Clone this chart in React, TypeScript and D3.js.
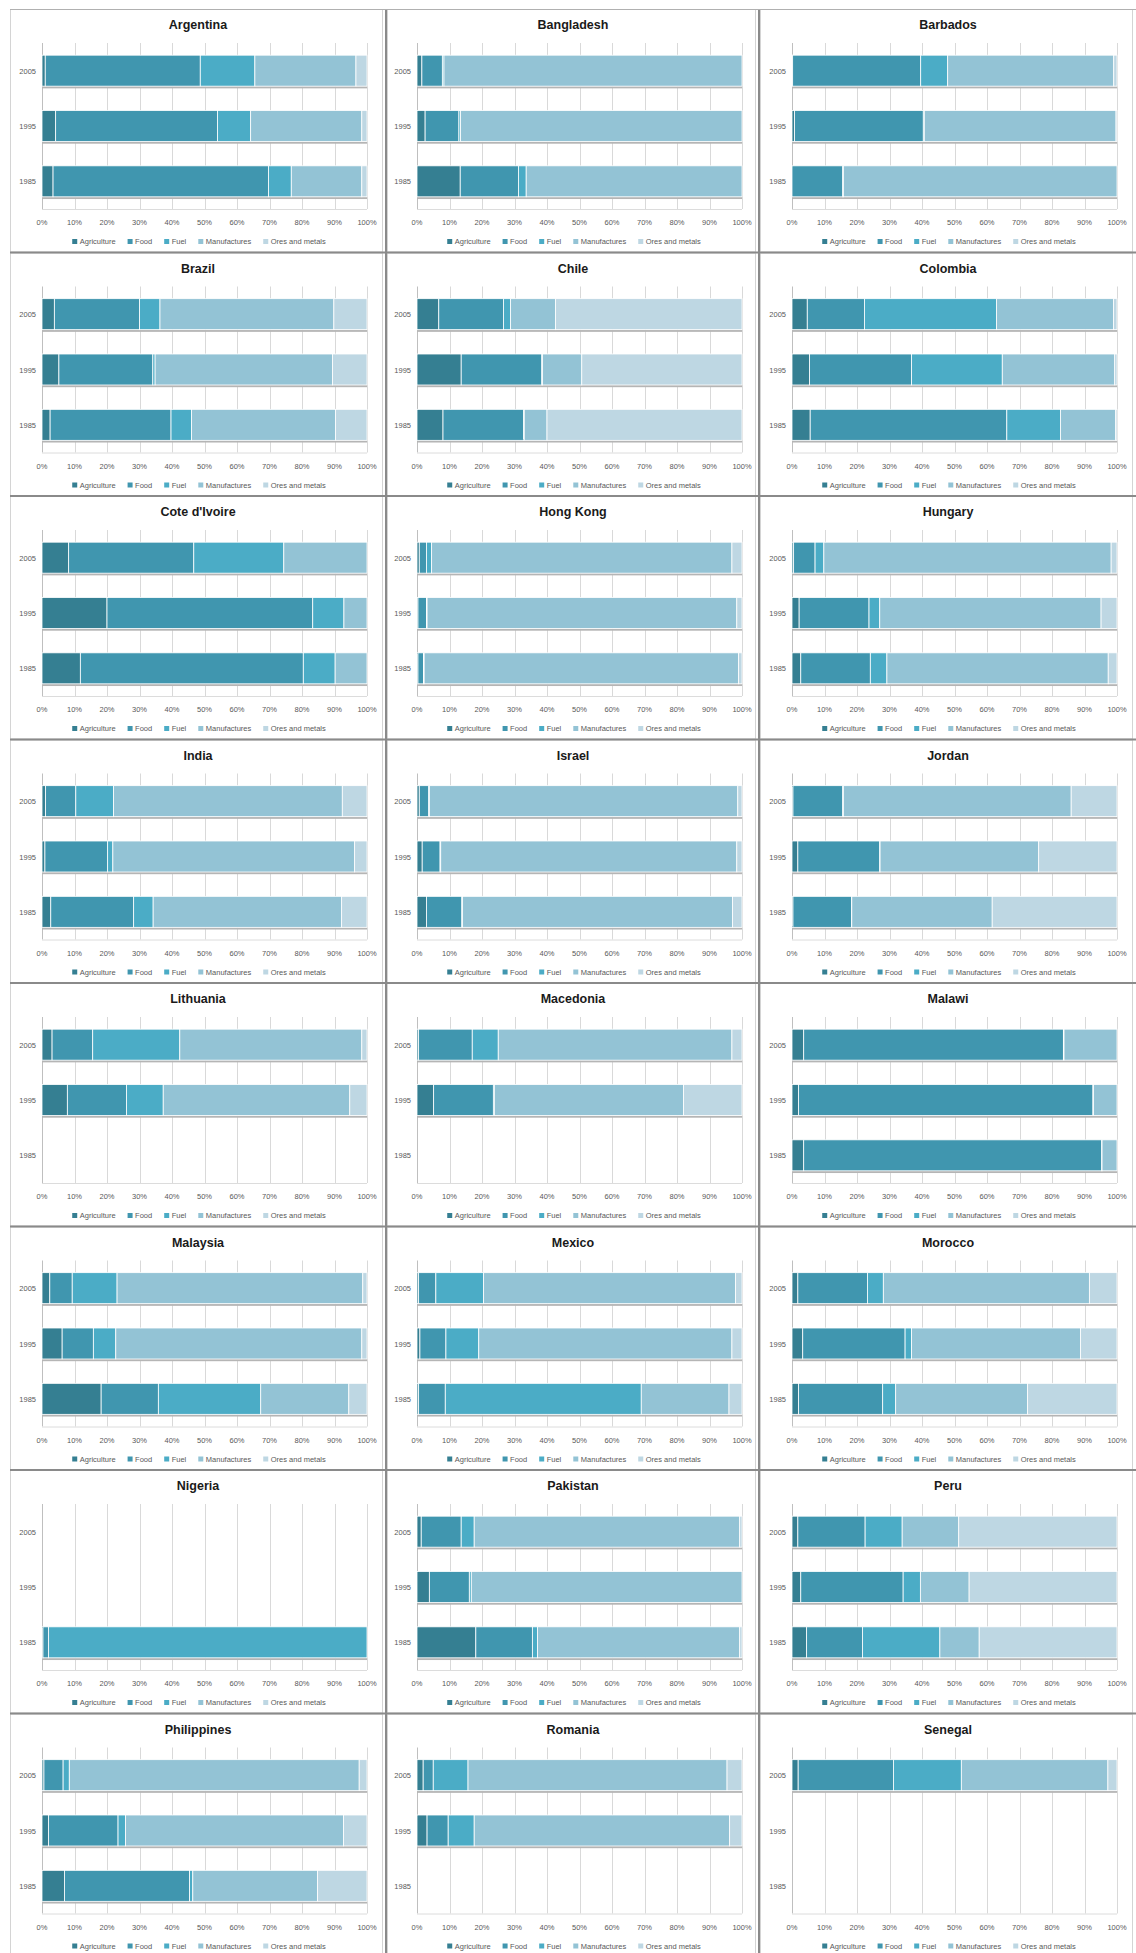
import { useEffect, useRef } from "react";
import * as d3 from "d3";

// countries in reading order (3 per row)
const countries = [
  "Argentina", "Bangladesh", "Barbados",
  "Brazil", "Chile", "Colombia",
  "Cote d'Ivoire", "Hong Kong", "Hungary",
  "India", "Israel", "Jordan",
  "Lithuania", "Macedonia", "Malawi",
  "Malaysia", "Mexico", "Morocco",
  "Nigeria", "Pakistan", "Peru",
  "Philippines", "Romania", "Senegal",
];

const years = ["2005", "1995", "1985"];

const seriesNames = ["Agriculture", "Food", "Fuel", "Manufactures", "Ores and metals"];
const seriesColors = ["#357f92", "#4096af", "#4bacc6", "#93c3d5", "#bed7e3"];

const xTicks = [0, 0.1, 0.2, 0.3, 0.4, 0.5, 0.6, 0.7, 0.8, 0.9, 1];

// share of merchandise exports (%), per country: [2005, 1995, 1985], null = no data
const agriculture = [
  [1.0, 4.2, 3.4], [1.5, 2.5, 13.3], [0.2, 0.8, 0],
  [3.8, 5.2, 2.5], [6.7, 13.6, 8.0], [4.7, 5.4, 5.6],
  [8.2, 20.0, 11.8], [0.7, 0.3, 0.3], [0.5, 2.2, 2.7],
  [1.1, 0.9, 2.7], [0.7, 1.6, 2.9], [0.3, 1.8, 0.3],
  [3.1, 7.8, null], [0.5, 5.1, null], [3.6, 2.0, 3.6],
  [2.4, 6.2, 18.2], [0.5, 0.9, 0.5], [1.8, 3.3, 2.0],
  [null, null, 0.3], [1.3, 3.8, 18.1], [1.8, 2.7, 4.5],
  [0.6, 2.0, 6.9], [1.9, 3.1, null], [1.9, null, null],
];
const food = [
  [47.7, 49.8, 66.3], [6.3, 10.4, 17.9], [39.4, 39.6, 15.6],
  [26.2, 28.9, 37.2], [19.9, 24.8, 24.8], [17.6, 31.4, 60.5],
  [38.5, 63.3, 68.6], [2.2, 2.6, 1.7], [6.6, 21.5, 21.4],
  [9.3, 19.3, 25.5], [2.9, 5.5, 10.9], [15.3, 25.2, 18.0],
  [12.5, 18.2, null], [16.5, 18.3, null], [79.9, 90.6, 91.7],
  [6.9, 9.6, 17.6], [5.3, 8.0, 8.2], [21.4, 31.5, 25.9],
  [null, null, 1.7], [12.3, 12.3, 17.4], [20.7, 31.5, 17.2],
  [5.9, 21.4, 38.5], [3.1, 6.5, null], [29.3, null, null],
];
const fuel = [
  [16.8, 10.2, 7.0], [0.5, 0.5, 2.4], [8.3, 0.3, 0.2],
  [6.3, 0.7, 6.3], [2.2, 0.2, 0.2], [40.6, 27.9, 16.5],
  [27.7, 9.6, 9.8], [1.6, 0.2, 0.2], [2.7, 3.3, 5.1],
  [11.6, 1.6, 6.0], [0.2, 0.2, 0.2], [0.2, 0.1, 0.1],
  [26.8, 11.3, null], [8.0, 0.3, null], [0.2, 0.2, 0.1],
  [13.8, 6.9, 31.5], [14.7, 10.1, 60.3], [4.9, 2.0, 4.0],
  [null, null, 98.0], [4.0, 0.6, 1.6], [11.4, 5.3, 23.8],
  [1.9, 2.3, 1.0], [10.7, 8.0, null], [20.9, null, null],
];
const manufactures = [
  [31.1, 34.2, 21.7], [91.7, 86.6, 66.4], [51.1, 59.0, 84.2],
  [53.5, 54.6, 44.3], [13.8, 12.1, 7.0], [36.0, 34.6, 17.0],
  [25.6, 7.1, 9.8], [92.4, 95.3, 96.7], [88.4, 68.1, 68.1],
  [70.4, 74.4, 58.0], [94.9, 91.1, 83.1], [70.1, 48.8, 43.2],
  [56.0, 57.4, null], [71.9, 58.0, null], [16.3, 7.2, 4.6],
  [75.6, 75.7, 27.1], [77.5, 77.9, 27.0], [63.4, 52.0, 40.6],
  [null, null, 0], [81.7, 83.3, 62.2], [17.4, 15.0, 12.1],
  [89.2, 67.1, 38.4], [79.7, 78.6, null], [45.1, null, null],
];
const oresMetals = [
  [3.4, 1.6, 1.6], [0, 0, 0], [1.0, 0.3, 0],
  [10.2, 10.6, 9.7], [57.4, 49.3, 60.0], [1.1, 0.7, 0.4],
  [0, 0, 0], [3.1, 1.6, 1.1], [1.8, 4.9, 2.7],
  [7.6, 3.8, 7.8], [1.3, 1.6, 2.9], [14.1, 24.1, 38.4],
  [1.6, 5.3, null], [3.1, 17.9, null], [0, 0, 0],
  [1.3, 1.6, 5.6], [2.0, 3.1, 4.0], [8.5, 11.2, 27.5],
  [null, null, 0], [0.7, 0, 0.7], [48.7, 45.5, 42.4],
  [2.4, 7.2, 15.2], [4.6, 3.8, null], [2.8, null, null],
];

const seriesValues = [agriculture, food, fuel, manufactures, oresMetals];

export default function App() {
  const svgRef = useRef<SVGSVGElement | null>(null);

  useEffect(() => {
    if (!svgRef.current) return;
    const width = 1136;
    const height = 1953;
    const svg = d3.select(svgRef.current);
    svg.selectAll("*").remove();

    const font = "'Liberation Sans', Arial, sans-serif";
    const rowH = 243.5;
    const top0 = 9;
    const plotLefts = [42, 417, 792];
    const plotW = 325;
    const cellX = [10, 387, 760];
    const cellW = [376, 372, 376];

    svg.append("rect").attr("width", width).attr("height", height).attr("fill", "#fff");

    countries.forEach((country, ci) => {
      const col = ci % 3;
      const row = Math.floor(ci / 3);
      const rT = top0 + row * rowH;
      const pl = plotLefts[col];
      const g = svg.append("g");

      // chart border
      g.append("rect")
        .attr("x", cellX[col] + 0.5)
        .attr("y", rT + 0.5)
        .attr("width", cellW[col] - 4)
        .attr("height", rowH - 1)
        .attr("fill", "#fff")
        .attr("stroke", "#d4d4d4");

      const x = d3.scaleLinear().domain([0, 1]).range([pl, pl + plotW]);
      const y = d3
        .scaleBand<string>()
        .domain(years)
        .range([rT + 34, rT + 200])
        .paddingInner(0.44)
        .paddingOuter(0.22);

      // gridlines
      g.selectAll(".grid")
        .data(xTicks)
        .join("line")
        .attr("x1", (d) => Math.round(x(d)) + 0.5)
        .attr("x2", (d) => Math.round(x(d)) + 0.5)
        .attr("y1", rT + 34)
        .attr("y2", rT + 200)
        .attr("stroke", (d) => (d === 0 ? "#bfbfbf" : "#d9d9d9"))
        .attr("stroke-width", 1);

      g.append("line")
        .attr("x1", pl)
        .attr("x2", pl + plotW)
        .attr("y1", rT + 200.5)
        .attr("y2", rT + 200.5)
        .attr("stroke", "#dcdcdc");

      // x tick labels
      g.selectAll(".xt")
        .data(xTicks)
        .join("text")
        .attr("x", (d) => x(d))
        .attr("y", rT + 216)
        .attr("text-anchor", "middle")
        .attr("font-family", font)
        .attr("font-size", 7.5)
        .attr("fill", "#595959")
        .text((d) => d3.format(".0%")(d));

      // year labels
      g.selectAll(".yl")
        .data(years)
        .join("text")
        .attr("x", pl - 6)
        .attr("y", (d) => (y(d) as number) + y.bandwidth() / 2 + 3)
        .attr("text-anchor", "end")
        .attr("font-family", font)
        .attr("font-size", 7.5)
        .attr("fill", "#595959")
        .text((d) => d);

      // stacked bars (100%)
      years.forEach((yr, yi) => {
        const vals = seriesValues.map((s) => s[ci][yi]);
        if (vals.every((v) => v === null)) return;
        const nums = vals.map((v) => v ?? 0);
        const total = d3.sum(nums);
        let acc = 0;
        const by = y(yr) as number;
        const bh = y.bandwidth();

        // bar shadow
        g.append("rect")
          .attr("x", x(0))
          .attr("y", by + bh)
          .attr("width", x(1) - x(0))
          .attr("height", 2.2)
          .attr("fill", "#b5b5b5");

        nums.forEach((v, si) => {
          const x0 = x(acc / total);
          acc += v;
          const x1 = x(acc / total);
          if (x1 - x0 <= 0) return;
          g.append("rect")
            .attr("x", x0)
            .attr("y", by)
            .attr("width", x1 - x0)
            .attr("height", bh)
            .attr("fill", seriesColors[si])
            .attr("stroke", "#ffffff")
            .attr("stroke-width", 0.8);
        });
      });

      // title
      g.append("text")
        .attr("x", pl + 156)
        .attr("y", rT + 20)
        .attr("text-anchor", "middle")
        .attr("font-family", font)
        .attr("font-weight", "bold")
        .attr("font-size", 12.5)
        .attr("fill", "#1a1a1a")
        .text(country);

      // legend
      const legend = g.append("g");
      let lx = 0;
      seriesNames.forEach((name, si) => {
        const item = legend.append("g").attr("transform", `translate(${lx},0)`);
        item
          .append("rect")
          .attr("x", 0)
          .attr("y", -2.5)
          .attr("width", 5)
          .attr("height", 5)
          .attr("fill", seriesColors[si]);
        const t = item
          .append("text")
          .attr("x", 7.5)
          .attr("y", 2.7)
          .attr("font-family", font)
          .attr("font-size", 7.5)
          .attr("fill", "#595959")
          .text(name);
        const tw = (t.node() as SVGTextElement).getComputedTextLength();
        lx += 7.5 + tw + 12;
      });
      const legendW = lx - 12;
      legend.attr("transform", `translate(${pl + 157 - legendW / 2},${rT + 232.5})`);
    });

    // dark cell separators
    const sep = svg.append("g").attr("stroke", "#8a8a8a").attr("stroke-width", 2);
    [386, 759].forEach((sx) => {
      sep.append("line").attr("x1", sx).attr("x2", sx).attr("y1", top0).attr("y2", height);
    });
    d3.range(1, 8).forEach((r) => {
      const sy = top0 + r * rowH;
      sep.append("line").attr("x1", 10).attr("x2", width).attr("y1", sy).attr("y2", sy);
    });
    svg
      .append("line")
      .attr("x1", 10)
      .attr("x2", width)
      .attr("y1", top0 + 0.5)
      .attr("y2", top0 + 0.5)
      .attr("stroke", "#b0b0b0");
  }, []);

  return (
    <div style={{ position: "absolute", left: 0, top: 0 }}>
      <svg ref={svgRef} width={1136} height={1953} style={{ display: "block" }}></svg>
    </div>
  );
}
